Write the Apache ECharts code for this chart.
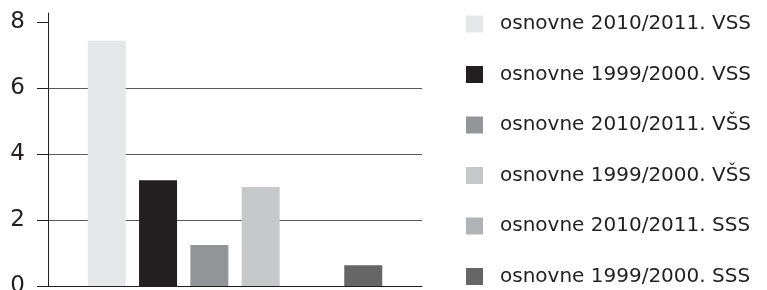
<!DOCTYPE html>
<html>
<head>
<meta charset="utf-8">
<script src="https://cdn.jsdelivr.net/npm/echarts@6/dist/echarts.min.js"></script>
<style>
  html, body { margin: 0; padding: 0; background: #fff; }
  #chart { width: 767px; height: 290px; }
</style>
</head>
<body>
<div id="chart"></div>
<script>
// podaci
var categories = [''];
var seriesNames = [
  'osnovne 2010/2011. VSS',
  'osnovne 1999/2000. VSS',
  'osnovne 2010/2011. VŠS',
  'osnovne 1999/2000. VŠS',
  'osnovne 2010/2011. SSS',
  'osnovne 1999/2000. SSS'
];
var values = [7.44, 3.21, 1.24, 3.0, 0, 0.63];
var yTicks = [0, 2, 4, 6, 8];

var colors = ['#e6e7e8', '#231f20', '#939598', '#c7c8ca', '#b1b3b6', '#666667'];

var chart = echarts.init(document.getElementById('chart'));

var series = seriesNames.map(function (name, i) {
  return {
    name: name,
    type: 'bar',
    data: [values[i]],
    barWidth: 38,
    barGap: '35%',
    itemStyle: { color: colors[i] },
    animation: false
  };
});

var option = {
  color: colors,
  animation: false,
  grid: {
    left: 48,
    right: 345,
    top: 13,
    bottom: 4,
    containLabel: false,
    outerBoundsMode: 'none'
  },
  legend: {
    orient: 'vertical',
    left: 466,
    top: 14,
    padding: 0,
    height: 280,
    itemWidth: 17,
    itemHeight: 17,
    itemGap: 30.5,
    icon: 'rect',
    textStyle: {
      fontFamily: 'DejaVu Sans',
      fontSize: 20,
      lineHeight: 20,
      color: '#231f20',
      padding: [0, 0, 0, 12]
    },
    data: seriesNames
  },
  xAxis: {
    type: 'category',
    data: categories,
    axisLine: { lineStyle: { color: '#231f20', width: 1 } },
    axisTick: { show: false },
    axisLabel: { show: false }
  },
  yAxis: {
    type: 'value',
    min: 0,
    max: 8.28,
    interval: 2,
    axisLine: { show: true, lineStyle: { color: '#231f20', width: 1 } },
    axisTick: {
      show: true,
      length: 11,
      customValues: yTicks,
      lineStyle: { color: '#231f20' }
    },
    axisLabel: {
      customValues: yTicks,
      margin: 23,
      fontFamily: 'DejaVu Sans',
      fontSize: 23,
      color: '#231f20'
    },
    splitLine: {
      show: true,
      showMaxLine: false,
      lineStyle: { color: '#58595b', width: 1 }
    }
  },
  series: series
};

chart.setOption(option);
</script>
</body>
</html>
